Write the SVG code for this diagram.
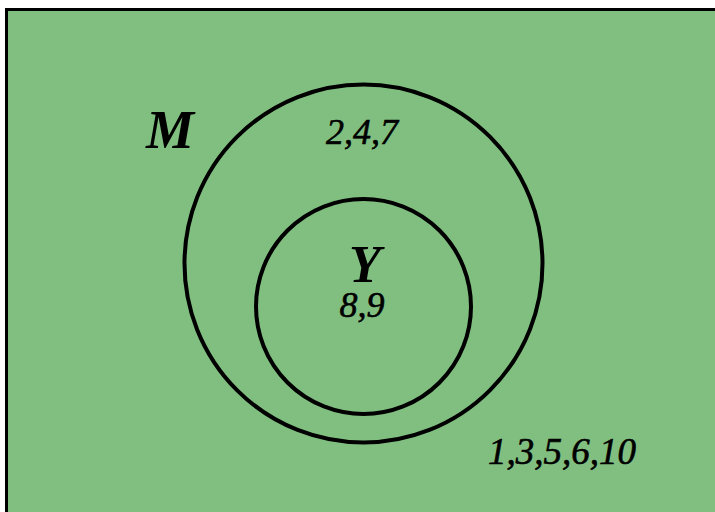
<svg xmlns="http://www.w3.org/2000/svg" width="715" height="512" viewBox="0 0 715 512">
<style>
.c{fill:none;stroke:#000;stroke-width:4}
.t{font-family:"Liberation Serif","Times New Roman",serif;font-style:italic;font-weight:bold;fill:#000}
.n{font-weight:normal;stroke:#000;stroke-width:0.6}
</style>
<rect x="0" y="0" width="715" height="512" fill="#fff"/>
<rect id="universe" x="6.5" y="9.5" width="720" height="520" fill="#80bf80" stroke="#000" stroke-width="3"/>
<g id="M">
<circle class="c" cx="363.5" cy="263.5" r="179"/>
<text class="t" x="146" y="148" font-size="54">M</text>
<text class="t n" x="362" y="144" font-size="36" text-anchor="middle">2,4,7</text>
</g>
<g id="Y">
<circle class="c" cx="363.5" cy="306.5" r="107.5"/>
<text class="t" x="365" y="282" font-size="52" text-anchor="middle">Y</text>
<text class="t n" x="362" y="317" font-size="36" text-anchor="middle">8,9</text>
</g>
<g id="outside">
<text class="t n" x="562" y="464" font-size="37" text-anchor="middle">1,3,5,6,10</text>
</g>
</svg>
